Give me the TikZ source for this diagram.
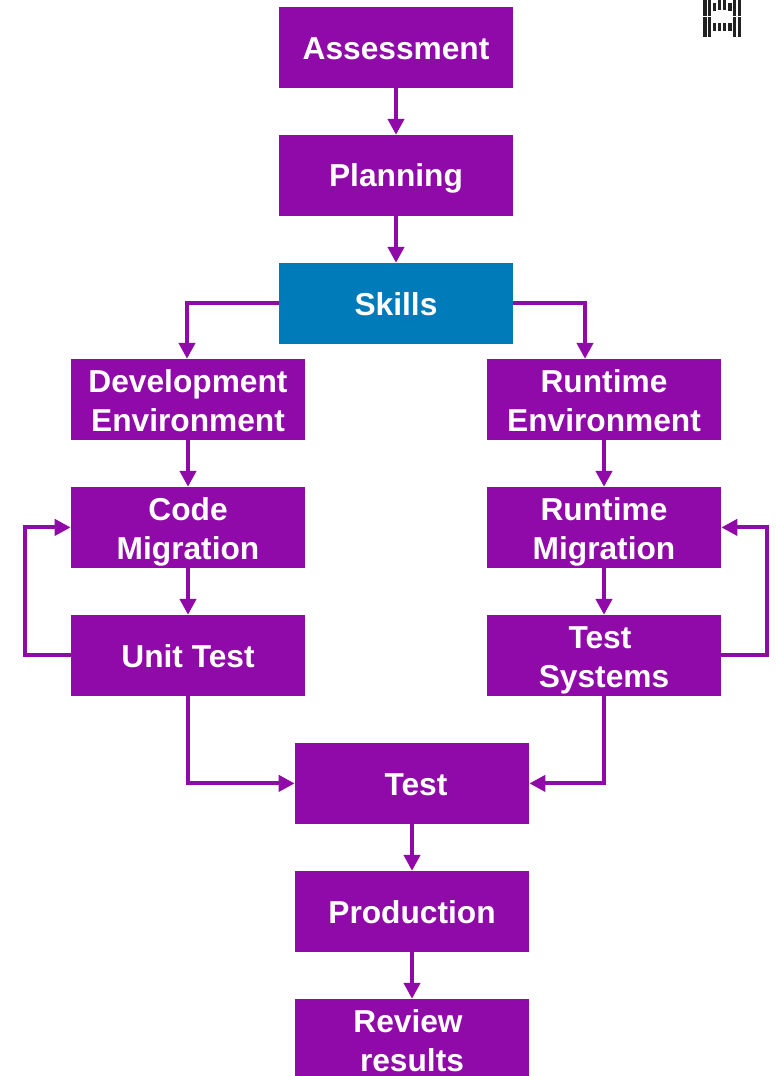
\documentclass[tikz,border=0pt]{standalone}
\usepackage{fontspec}
\setmainfont{Liberation Sans}
\usetikzlibrary{arrows.meta}
\definecolor{boxpurple}{HTML}{8F0AA8}
\definecolor{boxblue}{HTML}{007BBA}
\definecolor{logoink}{HTML}{222222}
\newcommand{\onelinetext}[1]{\rule[-5.4pt]{0pt}{35pt}#1}
\newcommand{\twolinetext}[2]{\rule{0pt}{31.6pt}#1\\\rule[-7pt]{0pt}{7pt}#2}
\tikzset{
  x=1pt,y=-1pt,
  stage/.style={draw=none,fill=boxpurple,text=white,minimum width=234.3pt,minimum height=80.7pt,inner sep=0pt,align=center,
    font=\fontsize{31.7pt}{39pt}\selectfont\bfseries},
  skillstage/.style={stage,fill=boxblue},
  flow/.style={draw=boxpurple,line width=4pt,miter limit=10,-{Triangle[length=16pt,width=16pt]}},
  bar/.style={fill=logoink,draw=none},
}
\begin{document}
\begin{tikzpicture}
\useasboundingbox (0,0) rectangle (776,1076);
\begin{scope}
\clip (0,0) rectangle (776,1076);
\node[stage] (assess) at (396,47.4) {\onelinetext{Assessment}};
\node[stage] (plan) at (396,175.4) {\onelinetext{Planning}};
\node[skillstage] (skills) at (396,303.4) {\onelinetext{Skills}};
\node[stage] (devenv) at (188,399.4) {\twolinetext{Development}{Environment}};
\node[stage] (runenv) at (604,399.4) {\twolinetext{Runtime}{Environment}};
\node[stage] (code) at (188,527.4) {\twolinetext{Code}{Migration}};
\node[stage] (runmig) at (604,527.4) {\twolinetext{Runtime}{Migration}};
\node[stage] (unit) at (188,655.4) {\onelinetext{Unit Test}};
\node[stage] (sys) at (604,655.4) {\twolinetext{Test\hspace*{8pt}}{Systems}};
\node[stage] (test) at (412,783.4) {\onelinetext{\hspace*{8pt}Test}};
\node[stage] (prod) at (412,911.4) {\onelinetext{Production}};
\node[stage] (review) at (412,1039.4) {\twolinetext{Review\hspace*{8pt}}{results}};

\coordinate (skillL) at (187,303);
\coordinate (skillR) at (585,303);
\coordinate (loopL) at (25,0);
\coordinate (loopR) at (767,0);
\draw[flow] (assess) -- (plan);
\draw[flow] (plan) -- (skills);
\draw[flow] (skills.west |- skillL) -| (skillL |- devenv.north);
\draw[flow] (skills.east |- skillR) -| (skillR |- runenv.north);
\draw[flow] (devenv) -- (code);
\draw[flow] (runenv) -- (runmig);
\draw[flow] (code) -- (unit);
\draw[flow] (runmig) -- (sys);
\draw[flow] (unit.west) -| (loopL |- code.west) -- (code.west);
\draw[flow] (sys.east) -| (loopR |- runmig.east) -- (runmig.east);
\draw[flow] (unit.south) |- (test.west);
\draw[flow] (sys.south) |- (test.east);
\draw[flow] (test) -- (prod);
\draw[flow] (prod) -- (review);

% logo
\foreach \a/\b/\t/\e in {703.3/707/0/15.7, 708.3/710.7/0/15.7, 713/716.3/3.3/11, 718/721.3/0/10, 723/726.3/0/10, 728.3/731.5/3.3/11, 733/736.3/0/15.7, 738/741/0/15.7,
  703.3/707/17/36.7, 708.3/710.7/17/36.7, 713/716.3/22.7/30.7, 718/721.3/22.7/30.7, 723/726.3/22.7/30.7, 728.3/731.5/22.7/30.7, 733/736.3/17/36.7, 738/741/17/36.7}
  \fill[bar] (\a,\t) rectangle (\b,\e);
\end{scope}
\end{tikzpicture}
\end{document}
